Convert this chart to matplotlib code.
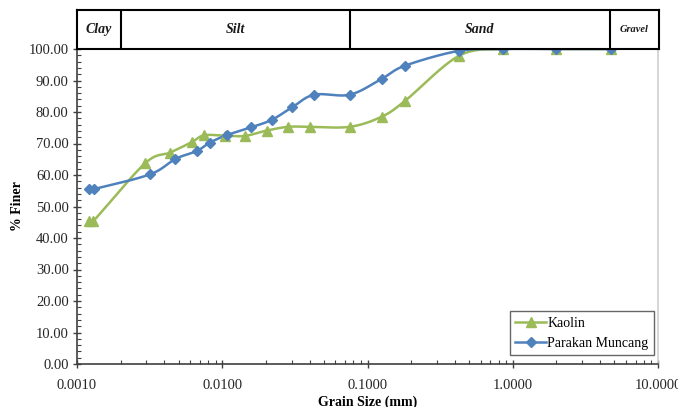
import numpy as np
import matplotlib
matplotlib.use("Agg")
import matplotlib.pyplot as plt
from matplotlib.ticker import FixedLocator, FuncFormatter, LogLocator, NullFormatter, MultipleLocator

# ---------------- data ----------------
kaolin_size = [0.00121, 0.00129, 0.00294, 0.00436, 0.00615, 0.00748, 0.0104, 0.0143,
               0.0202, 0.0285, 0.0402, 0.0757, 0.125, 0.181, 0.425, 0.86, 2.0, 4.75]
kaolin_finer = [45.5, 45.3, 63.7, 67.1, 70.4, 72.6, 72.5, 72.4,
                74.1, 75.3, 75.3, 75.3, 78.5, 83.5, 97.8, 100.0, 100.0, 100.0]

parakan_size = [0.00121, 0.00130, 0.00318, 0.00475, 0.00667, 0.00823, 0.0108, 0.0157,
                0.0219, 0.0303, 0.043, 0.0757, 0.125, 0.181, 0.425, 0.86, 2.0, 4.75]
parakan_finer = [55.5, 55.5, 60.2, 65.1, 67.6, 70.3, 72.7, 75.1,
                 77.5, 81.5, 85.5, 85.5, 90.5, 94.7, 99.4, 100.0, 100.0, 100.0]

band_edges = [0.001, 0.002, 0.075, 4.6, 10.0]
band_labels = ["Clay", "Silt", "Sand", "Gravel"]

series_names = ["Kaolin", "Parakan Muncang"]

x_ticks = [0.001, 0.01, 0.1, 1.0, 10.0]

# ---------------- helpers ----------------
def smooth(xs, ys, n=30):
    """Uniform Catmull-Rom curve through points, in (log10 x, y) space."""
    lx = np.log10(np.asarray(xs, float))
    yy = np.asarray(ys, float)
    P = np.column_stack([lx, yy])
    P = np.vstack([P[0], P, P[-1]])
    out = []
    t = np.linspace(0, 1, n)
    for i in range(1, len(P) - 2):
        p0, p1, p2, p3 = P[i - 1], P[i], P[i + 1], P[i + 2]
        c1 = p1 + (p2 - p0) / 6.0
        c2 = p2 - (p3 - p1) / 6.0
        seg = ((1 - t) ** 3)[:, None] * p1 + (3 * (1 - t) ** 2 * t)[:, None] * c1 \
            + (3 * (1 - t) * t ** 2)[:, None] * c2 + (t ** 3)[:, None] * p2
        out.append(seg if i == 1 else seg[1:])
    out = np.vstack(out)
    return 10 ** out[:, 0], out[:, 1]

serif = ["Liberation Serif", "DejaVu Serif"]
plt.rcParams["font.family"] = serif

W, H = 678, 407
fig = plt.figure(figsize=(W / 100, H / 100), dpi=100)

ax_l, ax_r = 77 / W, 658 / W
ax_b, ax_t = 1 - 364 / H, 1 - 49 / H
band_t = 1 - 10 / H

ax = fig.add_axes([ax_l, ax_b, ax_r - ax_l, ax_t - ax_b])
ax.set_xscale("log")
ax.set_xlim(0.001, 10)
ax.set_ylim(0, 100)

green = "#9BBB59"
blue = "#4F81BD"

for xs, ys, col, mk, ms, name in [
    (kaolin_size, kaolin_finer, green, "^", 7.5, series_names[0]),
    (parakan_size, parakan_finer, blue, "D", 5.5, series_names[1]),
]:
    sx, sy = smooth(xs, ys)
    ax.plot(sx, sy, color=col, lw=1.8, zorder=3)
    ax.plot(xs, ys, ls="none", marker=mk, ms=ms, color=col, mec=col, zorder=4, clip_on=False)
    ax.plot([], [], color=col, lw=1.8, marker=mk, ms=ms, label=name)

# ticks
ax.xaxis.set_major_locator(FixedLocator(x_ticks))
ax.xaxis.set_minor_locator(LogLocator(base=10, subs=np.arange(2, 10), numticks=20))
ax.xaxis.set_major_formatter(FuncFormatter(lambda v, p: f"{v:.4f}"))
ax.xaxis.set_minor_formatter(NullFormatter())
ax.yaxis.set_major_locator(MultipleLocator(10))
ax.yaxis.set_minor_locator(MultipleLocator(2))
ax.yaxis.set_major_formatter(FuncFormatter(lambda v, p: f"{v:.2f}"))

ax.tick_params(axis="both", which="major", direction="inout", length=6, width=1,
               color="#404040", labelsize=10.5, labelcolor="#262626")
ax.tick_params(axis="both", which="minor", direction="in", length=3, width=0.8, color="#404040")
ax.tick_params(axis="x", which="major", pad=8)
ax.tick_params(axis="y", which="major", pad=3)

for s in ["left", "bottom"]:
    ax.spines[s].set_color("#404040")
    ax.spines[s].set_linewidth(1.2)
ax.spines["top"].set_visible(False)
ax.spines["right"].set_color("#D0D0D0")
ax.spines["right"].set_linewidth(1.2)

ax.set_xlabel("Grain Size (mm)", fontsize=10, fontweight="bold", labelpad=2)
ax.set_ylabel("% Finer", fontsize=10, fontweight="bold", labelpad=3)

leg = ax.legend(loc="lower right", bbox_to_anchor=(0.993, 0.027), fontsize=10, frameon=True,
                fancybox=False, edgecolor="#404040", handlelength=2.2, handletextpad=0.1,
                borderpad=0.4, labelspacing=0.5, borderaxespad=0)
leg.get_frame().set_linewidth(1.0)

# soil classification band
bax = fig.add_axes([ax_l, ax_t, (659 / W) - ax_l, band_t - ax_t])
bax.set_xscale("log")
bax.set_xlim(0.001, 10)
bax.set_ylim(0, 1)
bax.set_xticks([])
bax.set_yticks([])
bax.minorticks_off()
for s in bax.spines.values():
    s.set_color("black")
    s.set_linewidth(1.5)
for e in band_edges[1:-1]:
    bax.axvline(e, color="black", lw=1.5)
for i, lab in enumerate(band_labels):
    lo, hi = band_edges[i], band_edges[i + 1]
    xc = 10 ** ((np.log10(lo) + np.log10(hi)) / 2)
    fs = 7.5 if lab == "Gravel" else 10
    bax.text(xc, 0.5, lab, ha="center", va="center", fontsize=fs,
             fontweight="bold", fontstyle="italic", color="#1a1a1a")

fig.savefig("out.png", dpi=100)
